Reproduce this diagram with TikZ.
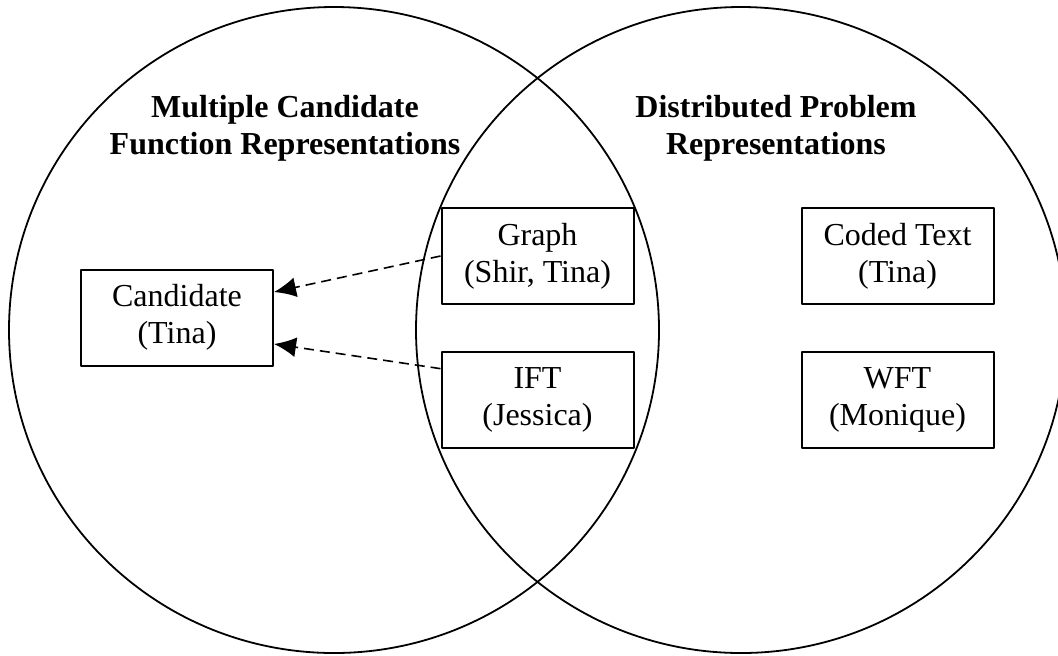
\documentclass[tikz,border=0pt]{standalone}
\usepackage{fontspec}
\setmainfont{Liberation Serif}
\usetikzlibrary{arrows.meta,calc}

\begin{document}
\begin{tikzpicture}[x=0.5pt,y=-0.5pt,line cap=round,line join=round,>={Latex[length=11pt,width=10pt]},
	box/.style={draw,line width=1pt,minimum width=96pt,minimum height=48pt,inner sep=0pt,align=center,font=\fontsize{16}{18.5}\selectfont},
	head/.style={align=center,font=\fontsize{16}{18.5}\selectfont\bfseries},
	link/.style={->,line width=0.8pt,line cap=butt,dash pattern=on 5pt off 3pt}]
\useasboundingbox (0,0) rectangle (1058,655);
\clip (0,0) rectangle (1058,655);
	\draw[line width=0.9pt] (334,330) ellipse [x radius=162.5pt,y radius=161.5pt];
\draw[line width=0.9pt] (741,330) ellipse [x radius=162.5pt,y radius=161.5pt];
\node[head] (multi) at (285,128) {Multiple Candidate\\Function Representations};
\node[head] (distr) at (776,128) {Distributed Problem\\Representations};
	\node[box] (cand) at (177,317.5) {Candidate\\(Tina)};
\node[box] (graph) at (537.5,256) {Graph\\(Shir, Tina)};
\node[box] (ift) at (537.5,400) {IFT\\(Jessica)};
\node[box] (coded) at (897.5,256) {Coded Text\\(Tina)};
\node[box] (wft) at (897.5,400) {WFT\\(Monique)};
	\draw[link] (graph.west) -- ($(cand.north east)!0.24!(cand.south east)$);
\draw[link] ($(ift.north west)!0.18!(ift.south west)$) -- ($(cand.north east)!0.77!(cand.south east)$);
	\end{tikzpicture}
\end{document}
